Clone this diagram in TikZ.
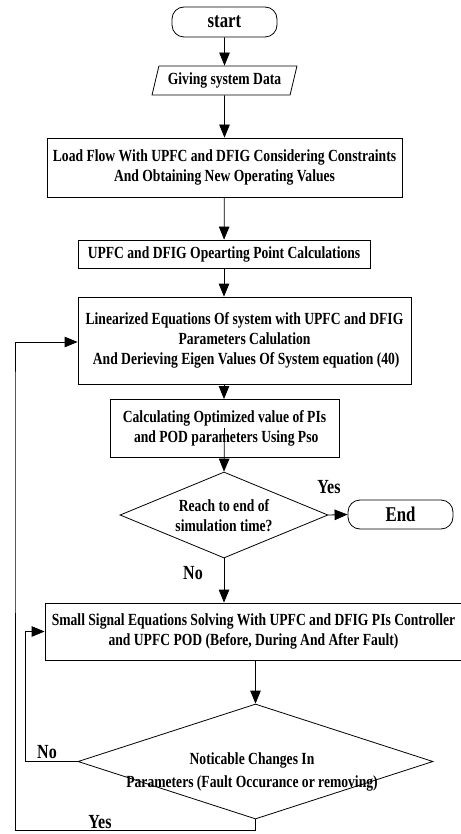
\documentclass[tikz,border=0pt]{standalone}
\usepackage{fontspec}
\setmainfont{Liberation Serif}[FakeStretch=0.8]
\usetikzlibrary{arrows.meta,shapes.geometric,calc}
\begin{document}
\begin{tikzpicture}[x=1pt,y=-1pt,
  every node/.style={font=\fontsize{17}{20}\selectfont\bfseries, align=center, inner sep=0pt},
  box/.style={draw, line width=0.8pt},
  term/.style={draw, line width=0.8pt, rounded corners=12pt, font=\fontsize{21}{24}\selectfont\bfseries},
  lbl/.style={font=\fontsize{20}{22}\selectfont\bfseries},
  flow/.style={line width=0.8pt, -{Triangle[length=13pt,width=10.5pt]}}]
\useasboundingbox (0,0) rectangle (460,834);
\node[term, minimum width=105pt, minimum height=30pt] (start) at (224.5,22) {start};
\node[draw, line width=0.8pt, trapezium, trapezium left angle=69, trapezium right angle=111, trapezium stretches=true, minimum width=145pt, minimum height=29pt] (giv) at (224.5,80.5) {Giving system Data};
\node[box, minimum width=355pt, minimum height=59pt] (load) at (224.5,167.5) {Load Flow With UPFC and DFIG Considering Constraints\\And Obtaining New Operating Values};
\node[box, minimum width=292pt, minimum height=28pt] (opp) at (224,254) {UPFC and DFIG Opearting Point Calculations};
\node[box, minimum width=333pt, minimum height=87pt] (lin) at (244.5,340.5) {Linearized Equations Of system with UPFC and DFIG\\Parameters Calulation\\\ And Derieving Eigen Values Of System equation (40)};
\node[box, minimum width=229pt, minimum height=58pt] (calc) at (224.5,428) {Calculating Optimized value of PIs\\\ and POD parameters Using Pso};
\node[draw, line width=0.8pt, minimum width=208pt, minimum height=86pt, diamond, shape aspect=2.42, inner sep=0pt] (d1) at (224,515) {};
\node (t1) at (224,516) {Reach to end of\\simulation time?};
\node[term, minimum width=105pt, minimum height=29pt] (end) at (400.5,514.5) {End};
\node[box, minimum width=417pt, minimum height=57pt] (small) at (253.5,631.5) {Small Signal Equations Solving With UPFC and DFIG PIs Controller\\and UPFC POD (Before, During And After Fault)};
\node[draw, line width=0.8pt, minimum width=355pt, minimum height=115pt, diamond, shape aspect=3.09, inner sep=0pt] (d2) at (255.5,761.5) {};
\node[font=\fontsize{17}{23}\selectfont\bfseries] (t2) at (252,772) {Noticable Changes In\\Parameters (Fault Occurance or removing)};
\node[lbl] (ly1) at (329,487) {Yes};
\node[lbl] (ln1) at (193,573) {No};
\node[lbl] (ln2) at (47,752) {No};
\node[lbl] (ly2) at (100,822) {Yes};
\coordinate (c1) at (224,399);
\draw[flow] (start) -- (giv);
\draw[flow] (giv) -- (load);
\draw[flow] (load) -- (opp);
\draw[flow] (opp.south) -- (opp.south |- lin.north);
\draw[flow] (opp.south |- lin.south) -- (c1);
\draw[flow] (calc.center) -- (d1.north);
\draw[flow] (d1.east) -- (end.west);
\draw[flow] (d1.south) -- (d1.south |- small.north);
\draw[flow] (d2.north |- small.south) -- (d2.north);
\draw[flow] (d2.west) -- ++(-52,0) |- (small.west);
\draw[flow] (d2.south) -- ++(0,11) -| (15,400) |- ($(lin.west)+(0,1.5)$);
\end{tikzpicture}
\end{document}
